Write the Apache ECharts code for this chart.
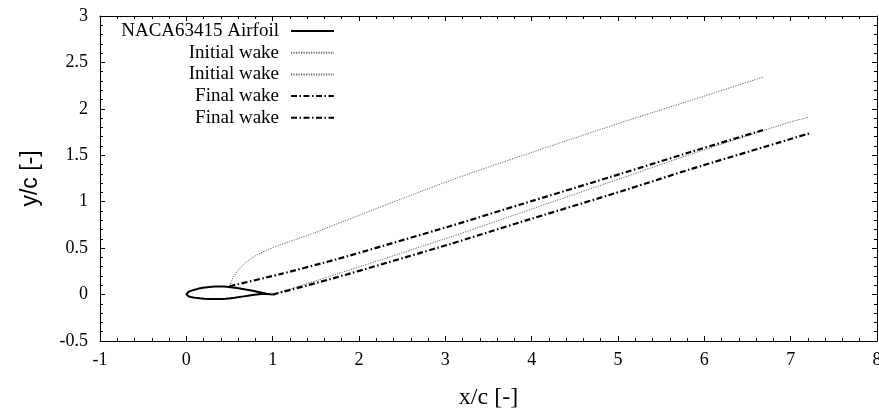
<!DOCTYPE html>
<html>
<head>
<meta charset="utf-8">
<script src="https://cdn.jsdelivr.net/npm/echarts@6/dist/echarts.min.js"></script>
<style>
html,body{margin:0;padding:0;background:#fff;}
#chart{width:879px;height:412px;}
</style>
</head>
<body>
<div id="chart"></div>
<script>
// Airfoil NACA63415 (closed contour: TE -> upper -> LE -> lower -> TE)
var foilX = [1.0,0.97559,0.92797,0.88003,0.83181,0.78334,0.73465,0.68579,0.63677,0.58763,0.53839,0.48908,0.43972,0.39033,0.34094,0.29156,0.24222,0.19293,0.14373,0.09468,0.07025,0.04592,0.02176,0.00987,0.00518,0.00287,0.0,
             0.00713,0.00982,0.01513,0.02824,0.05408,0.07975,0.10532,0.15627,0.20707,0.25778,0.30844,0.35906,0.40967,0.46028,0.51092,0.56161,0.61237,0.66321,0.71421,0.76535,0.81666,0.86819,0.91997,0.97203,1.0];
var foilY = [0.0,0.00258,0.01010,0.01884,0.02808,0.03740,0.04654,0.05530,0.06344,0.07078,0.07712,0.08224,0.08590,0.08766,0.08708,0.08451,0.07996,0.07332,0.06435,0.05253,0.04519,0.03655,0.02566,0.01837,0.01447,0.01203,0.0,
             -0.01103,-0.01277,-0.01547,-0.01986,-0.02615,-0.03079,-0.03451,-0.04015,-0.04410,-0.04674,-0.04823,-0.04852,-0.04730,-0.04406,-0.03928,-0.03338,-0.02666,-0.01940,-0.01198,-0.00498,0.00104,0.00532,0.00718,0.00455,0.0];

// Initial wake (from upper surface separation point)
var initWake1X = [0.50,0.545,0.60,0.70,0.854,1.086,1.47,1.74,3.06,3.87,5.03,5.84,6.69];
var initWake1Y = [0.09,0.19,0.26,0.354,0.445,0.534,0.66,0.76,1.23,1.49,1.85,2.09,2.345];
// Initial wake (from trailing edge)
var initWake2X = [1.0,1.74,3.06,3.87,5.03,5.84,7.0,7.21];
var initWake2Y = [0.0,0.22,0.62,0.88,1.25,1.51,1.86,1.91];
// Final wake (from upper surface separation point)
var finalWake1X = [0.50,1.086,1.74,3.06,3.87,5.03,5.84,6.71];
var finalWake1Y = [0.09,0.22,0.38,0.738,0.97,1.30,1.535,1.78];
// Final wake (from trailing edge)
var finalWake2X = [1.0,1.74,3.06,3.87,5.03,5.84,7.0,7.23];
var finalWake2Y = [0.0,0.185,0.545,0.78,1.11,1.35,1.675,1.74];

var seriesNames = ['NACA63415 Airfoil','Initial wake','Initial wake ','Final wake','Final wake '];

function pairs(xs, ys){ return xs.map(function(x,i){ return [x, ys[i]]; }); }

var serif = '"Liberation Serif","DejaVu Serif",serif';
var dotted = {color:'#666', width:1, type:[1.2,1.3]};
var dashdot = {color:'#000', width:2.2, type:[6,2.5,1.5,2.5]};

var chart = echarts.init(document.getElementById('chart'), null, {renderer:'canvas'});

function xAx(pos, show){
  return {
    type:'value', position:pos, min:-1, max:8, interval:1,
    name: show ? 'x/c [-]' : '', nameLocation:'middle', nameGap:45,
    nameTextStyle:{fontFamily:serif, fontSize:24, color:'#000'},
    axisLine:{show:true, onZero:false, lineStyle:{color:'#000', width:1}},
    axisTick:{show:true, inside:true, length:5, lineStyle:{color:'#000'}},
    minorTick:{show:true, splitNumber:5, length:3, lineStyle:{color:'#000'}},
    axisLabel:{show:show, fontFamily:serif, fontSize:18, color:'#000', margin:10},
    splitLine:{show:false}
  };
}
function yAx(pos, show){
  return {
    type:'value', position:pos, min:-0.5, max:3, interval:0.5,
    name: show ? 'y/c [-]' : '', nameLocation:'middle', nameGap:58,
    nameTextStyle:{fontFamily:'"Liberation Sans",Arial,sans-serif', fontSize:23, color:'#000'},
    axisLine:{show:true, onZero:false, lineStyle:{color:'#000', width:1}},
    axisTick:{show:true, inside:true, length:5, lineStyle:{color:'#000'}},
    minorTick:{show:true, splitNumber:5, length:3, lineStyle:{color:'#000'}},
    axisLabel:{show:show, fontFamily:serif, fontSize:18, color:'#000', margin:12},
    splitLine:{show:false}
  };
}

var option = {
  animation:false,
  backgroundColor:'#fff',
  grid:{left:100, right:2, top:16, bottom:71, containLabel:false, outerBoundsMode:'none'},
  xAxis:[xAx('bottom', true), xAx('top', false)],
  yAxis:[yAx('left', true), yAx('right', false)],
  legend:{
    orient:'vertical', align:'right', right:544, top:21, padding:0,
    itemWidth:43, itemHeight:12, itemGap:1.7,
    itemStyle:{opacity:0, borderWidth:0},
    formatter:function(n){ return n.trim(); },
    textStyle:{fontFamily:serif, fontSize:19, color:'#000', lineHeight:20, padding:[0,7,0,0]},
    data:seriesNames
  },
  series:[
    {name:seriesNames[0], type:'line', data:pairs(foilX, foilY), showSymbol:false, symbol:'none',
     lineStyle:{color:'#000', width:2}, itemStyle:{color:'#000'}},
    {name:seriesNames[1], type:'line', data:pairs(initWake1X, initWake1Y), smooth:0.3, symbol:'none',
     lineStyle:dotted, itemStyle:{color:'#666'}},
    {name:seriesNames[2], type:'line', data:pairs(initWake2X, initWake2Y), smooth:0.2, symbol:'none',
     lineStyle:dotted, itemStyle:{color:'#666'}},
    {name:seriesNames[3], type:'line', data:pairs(finalWake1X, finalWake1Y), smooth:0.2, symbol:'none',
     lineStyle:dashdot, itemStyle:{color:'#000'}},
    {name:seriesNames[4], type:'line', data:pairs(finalWake2X, finalWake2Y), smooth:0.2, symbol:'none',
     lineStyle:dashdot, itemStyle:{color:'#000'}}
  ]
};
chart.setOption(option);
</script>
</body>
</html>
